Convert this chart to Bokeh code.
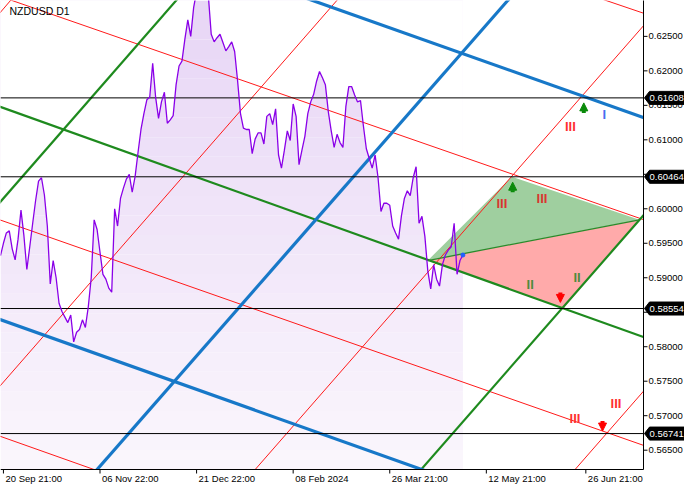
import numpy as np
from bokeh.plotting import figure
from bokeh.models import Range1d, Arrow, NormalHead
from bokeh.embed import file_html
from bokeh.resources import INLINE
from bokeh.core.properties import value

# ---------------- data ----------------
symbol = "NZDUSD D1"
bars = list(range(159))
close = [
    0.5932, 0.5950, 0.5965, 0.5968, 0.5942, 0.5926, 0.5956, 0.5998, 0.5961, 0.5912,
    0.5945, 0.5979, 0.6012, 0.6040, 0.6045, 0.6020, 0.5975, 0.5891, 0.5925, 0.5900,
    0.5863, 0.5851, 0.5843, 0.5835, 0.5846, 0.5807, 0.5821, 0.5825, 0.5839, 0.5828,
    0.5858, 0.5900, 0.5984, 0.5970, 0.5937, 0.5905, 0.5898, 0.5885, 0.5879, 0.6000,
    0.5975, 0.6015, 0.6030, 0.6043, 0.6050, 0.6024, 0.6047, 0.6082, 0.6115, 0.6138,
    0.6158, 0.6162, 0.6211, 0.6162, 0.6131, 0.6155, 0.6169, 0.6124, 0.6129, 0.6135,
    0.6180, 0.6207, 0.6214, 0.6246, 0.6274, 0.6250, 0.6292, 0.6315, 0.6335, 0.6350,
    0.6340, 0.6310, 0.6253, 0.6242, 0.6248, 0.6253, 0.6241, 0.6229, 0.6235, 0.6242,
    0.6228, 0.6186, 0.6138, 0.6117, 0.6115, 0.6115, 0.6080, 0.6101, 0.6110, 0.6110,
    0.6094, 0.6134, 0.6138, 0.6122, 0.6145, 0.6078, 0.6059, 0.6085, 0.6113, 0.6099,
    0.6152, 0.6134, 0.6064, 0.6085, 0.6105, 0.6138, 0.6155, 0.6166, 0.6185, 0.6199,
    0.6190, 0.6180, 0.6141, 0.6113, 0.6089, 0.6108, 0.6096, 0.6089, 0.6148, 0.6177,
    0.6177, 0.6165, 0.6155, 0.6157, 0.6120, 0.6087, 0.6073, 0.6059, 0.6078, 0.6045,
    0.5996, 0.6008, 0.6008, 0.6005, 0.5975, 0.5965, 0.5956, 0.5990, 0.6015, 0.6026,
    0.6019, 0.6045, 0.6061, 0.5979, 0.5989, 0.5960, 0.5910, 0.5884, 0.5919, 0.5898,
    0.5888, 0.5919, 0.5933, 0.5940, 0.5945, 0.5979, 0.5905, 0.5925, 0.5933,
]

x_ticks = [1, 34, 67, 100, 133, 166, 200]
x_tick_labels = ["20 Sep 21:00", "06 Nov 22:00", "21 Dec 22:00", "08 Feb 2024",
                 "26 Mar 21:00", "12 May 21:00", "26 Jun 21:00"]
y_ticks = [0.565, 0.570, 0.575, 0.580, 0.585, 0.590, 0.595, 0.600,
           0.605, 0.610, 0.615, 0.620, 0.625]
levels = [0.61608, 0.60464, 0.58554, 0.56741]

# trend lines: two anchor points each (bar, price)
red_b1 = [4, 207, 0, 0, 0, 0, 87, 196.3]
red_p1 = [0.63019, 0.63019, 0.59836, 0.5670, 0.6285, 0.57439, 0.56219, 0.56219]
red_b2 = [219.7, 219.7, 219.7, 32, 3.4, 114.9, 219.7, 219.7]
red_p2 = [0.59843, 0.62836, 0.5657, 0.56219, 0.63019, 0.63019, 0.62654, 0.57355]

green_b1 = [0, 0, 143.7]
green_p1 = [0.60103, 0.61477, 0.56219]
green_b2 = [60, 219.7, 219.7]
green_p2 = [0.63019, 0.5814, 0.59906]

blue_b1 = [106.7, 33, 0]
blue_p1 = [0.63019, 0.56219, 0.58392]
blue_b2 = [219.7, 173.3, 144]
blue_p2 = [0.61322, 0.63019, 0.56219]

# triangles
green_tri_b = [146.0, 174.7, 218.3]
green_tri_p = [0.5925, 0.60464, 0.5984]
red_tri_b = [146.0, 192.3, 218.3]
red_tri_p = [0.5925, 0.58554, 0.5984]

# wave labels
wave_b = [171.3, 185.0, 181.0, 197.0, 194.7, 206.3, 196.3, 210.3]
wave_p = [0.60075, 0.60145, 0.58897, 0.58999, 0.61196, 0.61364, 0.56955, 0.57173]
wave_t = ["III", "III", "II", "II", "III", "I", "III", "III"]
wave_c = ["#d9362f", "#d9362f", "#4f8a3c", "#4f8a3c", "#ff3030", "#4a6cf0", "#ff3030", "#ff3030"]

# signal arrows
up_b = [175.0, 199.3]
up_p = [0.60313, 0.61463]
down_b = [191.3, 205.7]
down_p = [0.58715, 0.5685]

# ---------------- geometry ----------------
X0, X1 = 0, 219.7          # chart area in bars
Y0, Y1 = 0.5622, 0.6302    # chart area in price
FIG_W, FIG_H = 684, 484
CHART_W, CHART_H = 643, 469
BX = (X1 - X0) / CHART_W   # bars per pixel
PY = (Y1 - Y0) / CHART_H   # price per pixel
XR_END = X0 + FIG_W * BX
YR_START = Y1 - FIG_H * PY

FONT = "Liberation Sans"
p = figure(width=FIG_W, height=FIG_H, x_range=Range1d(X0, XR_END), y_range=Range1d(YR_START, Y1),
           x_axis_type=None, y_axis_type=None, output_backend="svg", toolbar_location=None,
           min_border=0)
p.grid.visible = False
p.outline_line_color = None
p.background_fill_color = "white"
p.border_fill_color = "white"

# price area with vertical gradient
n_bands = 24
edges = np.linspace(Y0, Y1, n_bands + 1)
c_bot = np.array([251, 247, 253])
c_top = np.array([232, 214, 246])
for i in range(n_bands):
    f = (i + 0.5) / n_bands
    c = (c_bot + (c_top - c_bot) * f).astype(int)
    p.quad(left=bars[0], right=bars[-1], bottom=edges[i], top=edges[i + 1] + 1e-6,
           fill_color="#%02x%02x%02x" % tuple(c), line_color=None)
p.varea(x=bars, y1=close, y2=[Y1 + 0.01] * len(bars), fill_color="white")

# triangles
p.patch(red_tri_b, red_tri_p, fill_color="#ffaaaa", line_color=None)
p.patch(green_tri_b, green_tri_p, fill_color="#9fcf9f", line_color=None)

def add_line(b1, p1, b2, p2, color, width):
    g = (p2 - p1) / (b2 - b1)
    xs = [X0 - 5, X1 + 5]
    ys = [p1 + g * (x - b1) for x in xs]
    p.line(xs, ys, line_color=color, line_width=width)

for b1, p1, b2, p2 in zip(red_b1, red_p1, red_b2, red_p2):
    add_line(b1, p1, b2, p2, "#ff1a1a", 1)
for b1, p1, b2, p2 in zip(green_b1, green_p1, green_b2, green_p2):
    add_line(b1, p1, b2, p2, "#1e8a1e", 2.2)
for b1, p1, b2, p2 in zip(blue_b1, blue_p1, blue_b2, blue_p2):
    add_line(b1, p1, b2, p2, "#1778c8", 3.2)

# divider between the two triangles
p.line([green_tri_b[0], green_tri_b[2]], [green_tri_p[0], green_tri_p[2]],
       line_color="#2a8a2a", line_width=1.3)

# horizontal levels
p.segment(x0=[X0] * len(levels), y0=levels, x1=[X1] * len(levels), y1=levels,
          line_color="black", line_width=1)

# price line
p.line(bars, close, line_color="#8a00e8", line_width=1.3)
p.scatter([bars[-1]], [close[-1]], size=4, color="#2060ff")

# wave labels
p.text(x=wave_b, y=wave_p, text=wave_t, text_color=wave_c, text_font=value(FONT),
       text_font_style="bold", text_font_size=value("13px"), text_align="center",
       text_baseline="middle")

# margins (mask anything drawn past the chart area)
p.quad(left=[X1], right=[XR_END + 1], bottom=[YR_START - 0.001], top=[Y1 + 0.001],
       fill_color="white", line_color=None)
p.quad(left=[X0 - 1], right=[X1], bottom=[YR_START - 0.001], top=[Y0],
       fill_color="white", line_color=None)

# axes lines
p.segment(x0=[X1, X0], y0=[Y0, Y0], x1=[X1, X1], y1=[Y1 + 0.001, Y0],
          line_color="black", line_width=1)

# y ticks and labels
p.segment(x0=[X1] * len(y_ticks), y0=y_ticks, x1=[X1 + 4 * BX] * len(y_ticks), y1=y_ticks,
          line_color="black", line_width=1)
p.text(x=[X1 + 5 * BX] * len(y_ticks), y=y_ticks, text=["%.5f" % t for t in y_ticks],
       text_font=value(FONT), text_font_size=value("9.5px"), text_color="black",
       text_align="left", text_baseline="middle")

# x ticks and labels
p.segment(x0=x_ticks, y0=[Y0] * len(x_ticks), x1=x_ticks, y1=[Y0 - 4 * PY] * len(x_ticks),
          line_color="black", line_width=1)
p.text(x=[t + 2 * BX for t in x_ticks], y=[Y0 - 3 * PY] * len(x_ticks), text=x_tick_labels,
       text_font=value(FONT), text_font_size=value("9.5px"), text_color="black",
       text_align="left", text_baseline="top")

# level tags on the price axis
tag_xs, tag_ys = [], []
h = 6.5 * PY
for lv in levels:
    tag_xs.append([X1 + 1 * BX, X1 + 6 * BX, XR_END + 1, XR_END + 1, X1 + 6 * BX])
    tag_ys.append([lv, lv + h, lv + h, lv - h, lv - h])
p.patches(tag_xs, tag_ys, fill_color="black", line_color="black", line_join="round")
p.text(x=[X1 + 6 * BX] * len(levels), y=levels, text=["%.5f" % lv for lv in levels],
       text_font=value(FONT), text_font_size=value("9.5px"), text_color="white",
       text_align="left", text_baseline="middle")

# title
p.text(x=[X0 + 9 * BX], y=[Y1 - 10 * PY], text=[symbol], text_font=value(FONT),
       text_font_size=value("10.5px"), text_color="black", text_align="left",
       text_baseline="middle")

# arrows
half = 5 * PY
for b, pr in zip(up_b, up_p):
    p.add_layout(Arrow(end=NormalHead(size=8, fill_color="#0a8a0a", line_color="#0a8a0a"),
                       x_start=b, y_start=pr - half, x_end=b, y_end=pr + half,
                       line_color="#0a8a0a", line_width=4))
for b, pr in zip(down_b, down_p):
    p.add_layout(Arrow(end=NormalHead(size=8, fill_color="#ff0000", line_color="#ff0000"),
                       x_start=b, y_start=pr + half, x_end=b, y_end=pr - half,
                       line_color="#ff0000", line_width=4))

open("out.html", "w").write(file_html(p, INLINE))
